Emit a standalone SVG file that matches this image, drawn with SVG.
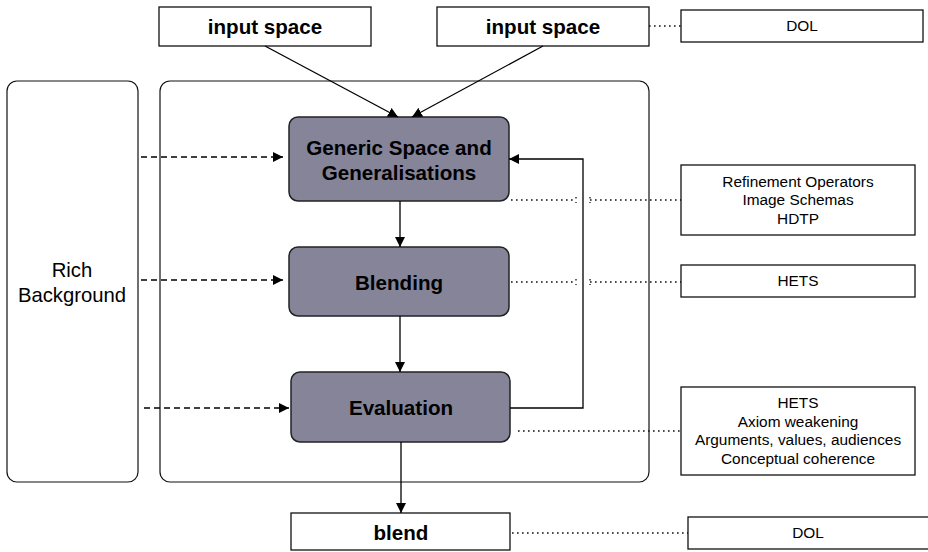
<svg xmlns="http://www.w3.org/2000/svg" width="928" height="552" viewBox="0 0 928 552">
<style>
.box{fill:#fff;stroke:#111;stroke-width:1.3}
.proc{fill:#858499;stroke:#222;stroke-width:1.5}
.cont{fill:none;stroke:#111;stroke-width:1.2}
.bt{font-family:"Liberation Sans",Arial,sans-serif;font-weight:bold;font-size:20.6px;fill:#000;text-anchor:middle}
.rt{font-family:"Liberation Sans",Arial,sans-serif;font-size:20.3px;fill:#000;text-anchor:middle}
.st{font-family:"Liberation Sans",Arial,sans-serif;font-size:15.4px;fill:#000;text-anchor:middle}
.solid{fill:none;stroke:#000;stroke-width:1.3}
.dash{fill:none;stroke:#000;stroke-width:1.3;stroke-dasharray:6 4}
.dot{fill:none;stroke:#111;stroke-width:1.3;stroke-dasharray:1.6 3.4}
</style>
<defs>
<marker id="ah" viewBox="0 0 10 10" refX="10" refY="5" markerWidth="10" markerHeight="10" markerUnits="userSpaceOnUse" orient="auto">
<path d="M0,0 L10,5 L0,10 z" fill="#000"/>
</marker>
</defs>

<g id="container"><rect class="cont" x="160" y="81" width="489" height="401" rx="10"/></g>
<g id="rich-background"><rect class="cont" x="7" y="81" width="131" height="401" rx="10"/>
<text class="rt" x="72" y="277">Rich</text><text class="rt" x="72" y="302">Background</text></g>

<g id="input1"><rect class="box" x="159" y="7" width="212" height="39"/><text class="bt" x="265" y="34">input space</text></g>
<g id="input2"><rect class="box" x="437" y="7" width="212" height="39"/><text class="bt" x="543" y="34">input space</text></g>
<g id="dol-top"><rect class="box" x="681" y="10" width="242" height="32"/><text class="st" x="802" y="31">DOL</text></g>

<g id="generic"><rect class="proc" x="289" y="117" width="220" height="84" rx="9"/>
<text class="bt" x="399" y="155">Generic Space and</text><text class="bt" x="399" y="180">Generalisations</text></g>
<g id="blending"><rect class="proc" x="289" y="247" width="220" height="69" rx="9"/><text class="bt" x="399" y="290">Blending</text></g>
<g id="evaluation"><rect class="proc" x="291" y="372" width="219" height="70" rx="9"/><text class="bt" x="401" y="415">Evaluation</text></g>
<g id="blend"><rect class="box" x="291" y="513" width="219" height="37"/><text class="bt" x="401" y="540">blend</text></g>

<g id="tools1"><rect class="box" x="681" y="165" width="234" height="70"/>
<text class="st" x="798" y="187">Refinement Operators</text><text class="st" x="798" y="205">Image Schemas</text><text class="st" x="798" y="224">HDTP</text></g>
<g id="tools2"><rect class="box" x="681" y="265" width="234" height="32"/><text class="st" x="798" y="286">HETS</text></g>
<g id="tools3"><rect class="box" x="681" y="387" width="234" height="88"/>
<text class="st" x="798" y="408">HETS</text><text class="st" x="798" y="427">Axiom weakening</text><text class="st" x="798" y="445">Arguments, values, audiences</text><text class="st" x="798" y="464">Conceptual coherence</text></g>
<g id="dol-bottom"><rect class="box" x="688" y="517" width="245" height="32"/><text class="st" x="808" y="538">DOL</text></g>

<g id="connectors">
<line class="solid" x1="265" y1="46" x2="398" y2="117" marker-end="url(#ah)"/>
<line class="solid" x1="543" y1="46" x2="412" y2="117" marker-end="url(#ah)"/>
<line class="solid" x1="400" y1="201" x2="400" y2="247" marker-end="url(#ah)"/>
<line class="solid" x1="400" y1="316" x2="400" y2="372" marker-end="url(#ah)"/>
<line class="solid" x1="401" y1="442" x2="401" y2="513" marker-end="url(#ah)"/>
<polyline class="solid" points="510,408 583,408 583,159 509,159" marker-end="url(#ah)"/>
<line class="dash" x1="141" y1="157" x2="283" y2="157" marker-end="url(#ah)"/>
<line class="dash" x1="141" y1="280" x2="283" y2="280" marker-end="url(#ah)"/>
<line class="dash" x1="144" y1="408" x2="289" y2="408" marker-end="url(#ah)"/>
<line class="dot" x1="649" y1="26" x2="681" y2="26"/>
<line class="dot" x1="511" y1="200" x2="576" y2="200"/>
<line class="dot" x1="590" y1="200" x2="681" y2="200"/>
<line class="dot" x1="576" y1="197" x2="576" y2="203"/>
<line class="dot" x1="590" y1="197" x2="590" y2="203"/>
<line class="dot" x1="511" y1="282" x2="576" y2="282"/>
<line class="dot" x1="590" y1="282" x2="681" y2="282"/>
<line class="dot" x1="576" y1="279" x2="576" y2="285"/>
<line class="dot" x1="590" y1="279" x2="590" y2="285"/>
<line class="dot" x1="518" y1="431" x2="681" y2="431"/>
<line class="dot" x1="512" y1="533" x2="688" y2="533"/>
</g>
</svg>
